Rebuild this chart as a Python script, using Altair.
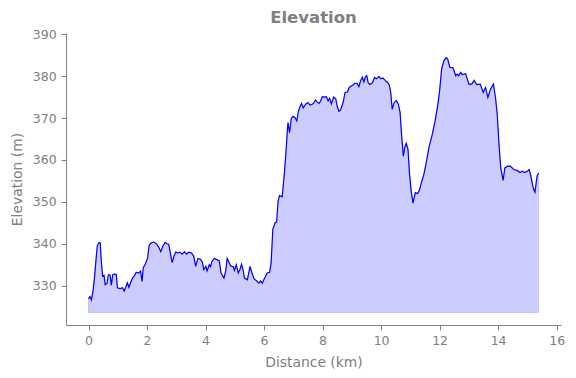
import altair as alt
import pandas as pd

km = [0.00, 0.05, 0.10, 0.15, 0.20, 0.26, 0.30, 0.36, 0.40, 0.43, 0.48, 0.53, 0.57, 0.63, 0.68,
      0.74, 0.78, 0.83, 0.90, 0.95, 0.99, 1.08, 1.16, 1.22, 1.28, 1.33, 1.38, 1.46, 1.52, 1.57,
      1.63, 1.71, 1.78, 1.83, 1.87, 1.95, 2.02, 2.07, 2.14, 2.23, 2.32, 2.40, 2.47, 2.54, 2.62,
      2.68, 2.74, 2.80, 2.86, 2.92, 2.98, 3.05, 3.12, 3.20, 3.28, 3.35, 3.43, 3.52, 3.60, 3.66,
      3.74, 3.83, 3.89, 3.94, 4.01, 4.05, 4.13, 4.17, 4.22, 4.30, 4.39, 4.47, 4.53, 4.63, 4.69,
      4.74, 4.80, 4.86, 4.95, 4.99, 5.05, 5.12, 5.18, 5.23, 5.29, 5.33, 5.43, 5.52, 5.58, 5.66,
      5.77, 5.82, 5.88, 5.94, 6.02, 6.11, 6.19, 6.24, 6.30, 6.38, 6.43, 6.48, 6.53, 6.62, 6.70,
      6.76, 6.80, 6.82, 6.87, 6.93, 6.99, 7.06, 7.12, 7.17, 7.22, 7.28, 7.34, 7.42, 7.50, 7.57,
      7.65, 7.70, 7.76, 7.82, 7.88, 7.93, 7.99, 8.07, 8.13, 8.19, 8.24, 8.30, 8.38, 8.45, 8.50,
      8.56, 8.62, 8.70, 8.77, 8.85, 8.91, 8.97, 9.04, 9.10, 9.18, 9.24, 9.30, 9.36, 9.41, 9.46,
      9.51, 9.56, 9.62, 9.70, 9.78, 9.84, 9.93, 9.99, 10.07, 10.14, 10.22, 10.28, 10.33, 10.38,
      10.44, 10.52, 10.59, 10.65, 10.70, 10.76, 10.81, 10.86, 10.92, 10.97, 11.03, 11.09, 11.17,
      11.25, 11.31, 11.39, 11.46, 11.53, 11.64, 11.75, 11.85, 11.93, 12.00, 12.07, 12.15, 12.23,
      12.28, 12.35, 12.46, 12.55, 12.60, 12.65, 12.72, 12.77, 12.89, 13.00, 13.10, 13.18, 13.27,
      13.39, 13.49, 13.57, 13.65, 13.74, 13.84, 13.91, 13.97, 14.03, 14.09, 14.17, 14.23, 14.33,
      14.42, 14.54, 14.65, 14.75, 14.83, 14.91, 15.00, 15.06, 15.11, 15.20, 15.26, 15.33, 15.38]

elev = [326.8, 327.4, 326.6, 328.5, 331.5, 336.5, 339.5, 340.3, 340.2, 336.6, 332.3, 332.5, 330.2, 330.5, 332.6,
        332.5, 330.1, 332.6, 332.8, 332.6, 329.5, 329.3, 329.5, 328.7, 329.8, 330.7, 329.6, 331.1, 332.0, 332.4,
        333.2, 333.0, 333.5, 331.0, 334.2, 335.3, 336.6, 339.6, 340.2, 340.4, 340.0, 339.2, 338.1, 339.4, 340.3,
        340.0, 339.9, 337.7, 335.5, 337.0, 338.0, 337.8, 338.0, 337.5, 338.1, 337.5, 338.0, 337.8, 337.0, 334.6,
        336.5, 336.3, 335.6, 333.8, 334.6, 333.5, 335.0, 334.5, 335.8, 336.5, 336.2, 335.9, 333.0, 331.8, 333.6,
        336.5, 335.6, 334.7, 334.5, 333.6, 335.0, 333.0, 333.9, 335.1, 333.5, 331.8, 331.4, 334.6, 333.2, 331.6,
        331.0, 330.6, 331.1, 330.6, 331.8, 333.0, 333.2, 335.3, 343.5, 345.0, 345.2, 350.2, 351.5, 351.2, 357.3,
        363.0, 367.5, 368.9, 366.5, 369.9, 370.4, 370.1, 369.3, 371.5, 372.5, 373.5, 372.4, 373.3, 373.7, 373.1,
        373.3, 373.6, 374.3, 373.8, 373.5, 374.0, 375.1, 375.0, 375.1, 374.1, 374.7, 373.4, 375.0, 374.6, 372.8,
        371.6, 372.0, 373.7, 376.1, 376.2, 377.3, 377.6, 377.9, 378.3, 378.3, 377.5, 378.9, 379.7, 378.6, 379.8,
        380.1, 378.4, 378.0, 378.4, 379.7, 379.4, 379.9, 379.4, 379.5, 379.0, 378.5, 377.9, 376.1, 372.1,
        373.6, 374.2, 373.3, 371.3, 366.1, 360.9, 363.0, 364.0, 362.5, 356.8, 352.5, 349.7, 352.2,
        352.0, 352.8, 354.9, 356.5, 358.9, 363.1, 366.1, 369.5, 372.8, 376.5, 381.8, 383.7, 384.4,
        384.0, 382.1, 382.0, 380.1, 380.5, 380.1, 380.9, 380.4, 380.6, 378.1, 378.1, 379.0, 378.0,
        378.1, 376.1, 377.3, 374.9, 376.9, 378.1, 374.9, 370.9, 363.7, 358.1, 355.1, 358.1, 358.5,
        358.5, 357.7, 357.5, 357.0, 357.3, 357.0, 357.3, 357.7, 356.5, 353.3, 352.3, 356.1, 356.9]

fill_base = 323.6
x_ticks = [0, 2, 4, 6, 8, 10, 12, 14, 16]
y_ticks = [330, 340, 350, 360, 370, 380, 390]

df = pd.DataFrame({"km": km, "elev": elev})
df["base"] = fill_base

GRAY = "#808080"
FONT = "DejaVu Sans"

x_enc = alt.X(
    "km:Q",
    scale=alt.Scale(domain=[-0.769, 16.149], nice=False, zero=False),
    axis=alt.Axis(values=x_ticks, title="Distance (km)", format="d", titlePadding=8),
)
y_enc = alt.Y(
    "elev:Q",
    scale=alt.Scale(domain=[320.6, 390.3], nice=False, zero=False),
    axis=alt.Axis(values=y_ticks, title="Elevation (m)", format="d", titlePadding=8),
)

area = alt.Chart(df).mark_area(
    fill="blue", fillOpacity=0.2, stroke="blue", strokeOpacity=0.15, strokeWidth=1
).encode(x=x_enc, y=y_enc, y2="base:Q")

line = alt.Chart(df).mark_line(color="blue", strokeWidth=1.2).encode(x="km:Q", y="elev:Q")

chart = (
    alt.layer(area, line)
    .properties(
        width=495,
        height=292,
        autosize=alt.AutoSizeParams(type="none"),
        padding={"left": 66, "top": 33, "right": 15, "bottom": 53},
        title=alt.TitleParams(
            "Elevation", font=FONT, fontSize=16.5, fontWeight="bold", color=GRAY,
            anchor="middle", offset=2,
        ),
    )
    .configure_view(stroke=None)
    .configure_axis(
        grid=False,
        domainColor=GRAY,
        tickColor=GRAY,
        labelColor=GRAY,
        titleColor=GRAY,
        labelFont=FONT,
        titleFont=FONT,
        labelFontSize=12.5,
        titleFontSize=13.9,
        titleFontWeight="normal",
        tickSize=4.9,
        labelPadding=4.9,
        domainWidth=1,
        tickWidth=1,
    )
)

chart.save("out.html", embed_options={"renderer": "svg", "actions": False})
